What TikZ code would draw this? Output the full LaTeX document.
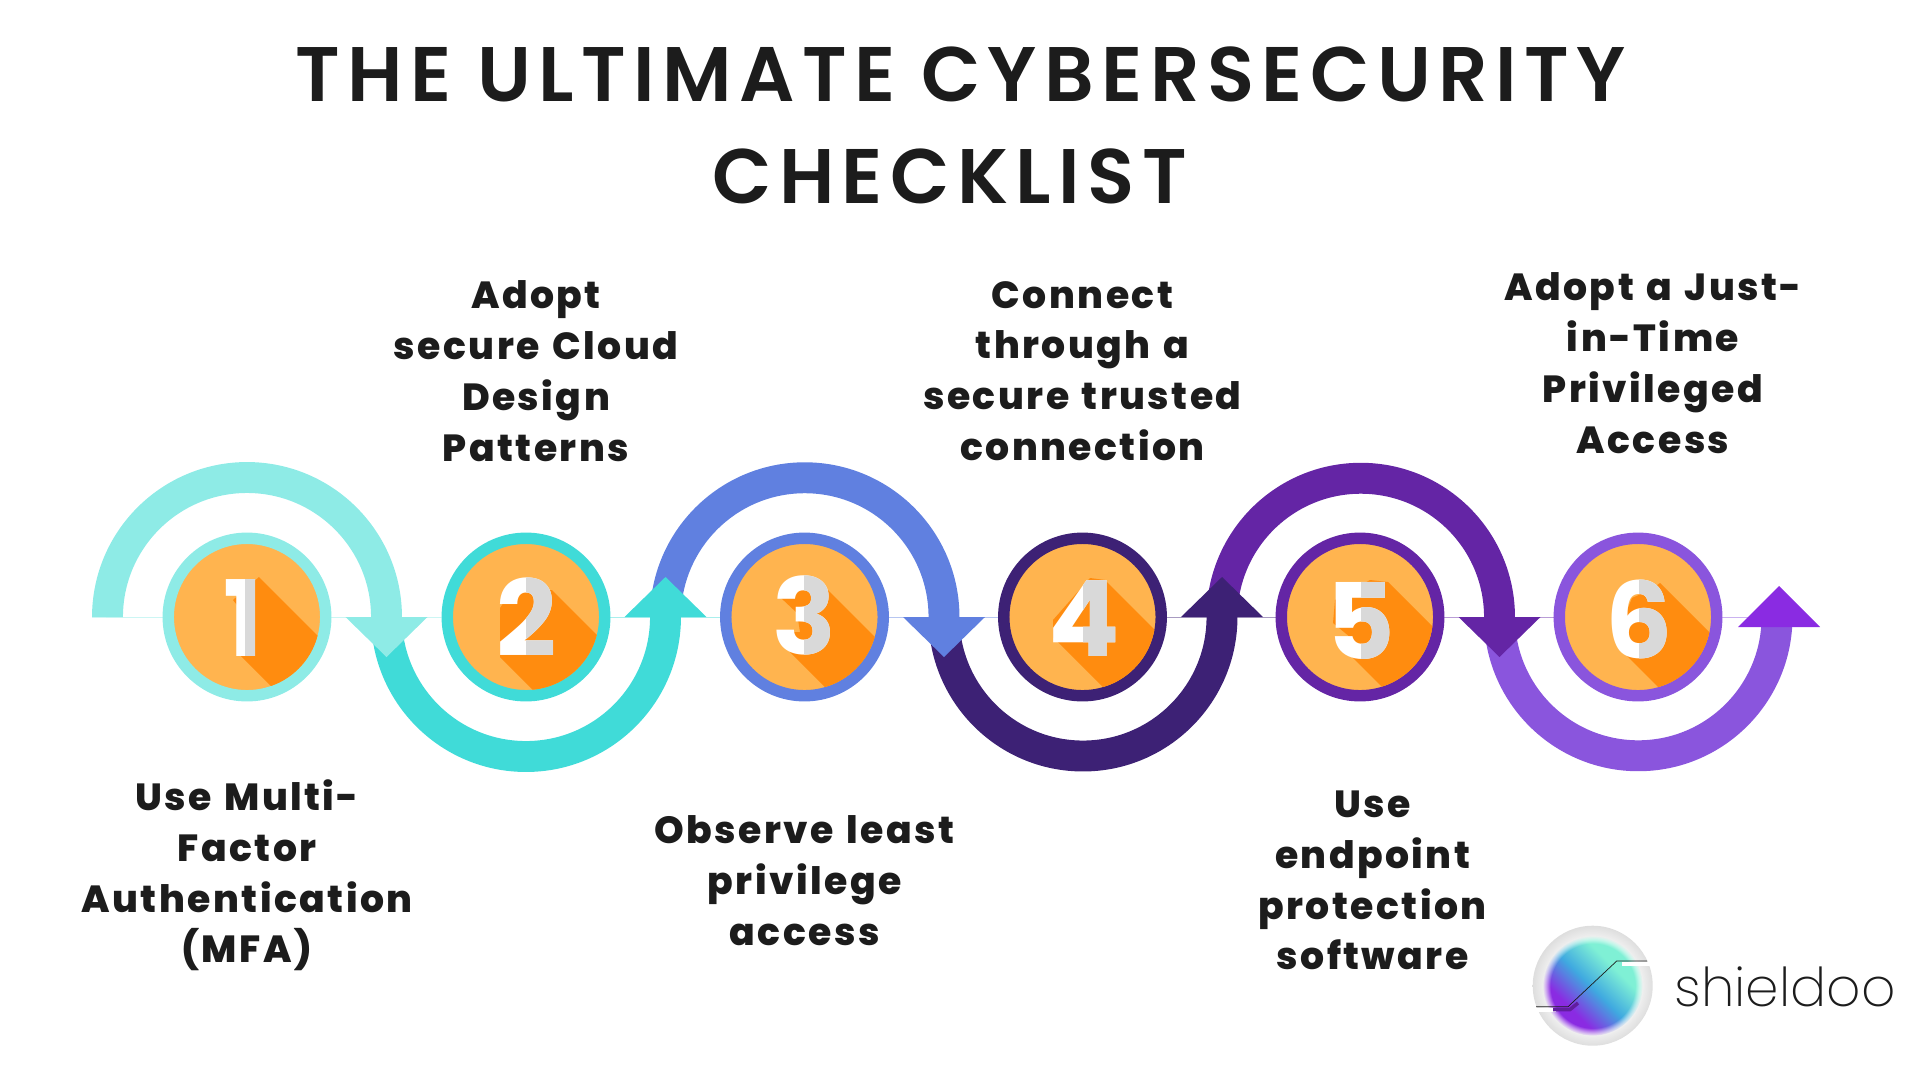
\documentclass[tikz,border=0pt]{standalone}
\usepackage{fontspec}
\usetikzlibrary{fadings}
\setmainfont{Poppins}
\newfontfamily\titlefont[LetterSpace=9.6]{Poppins SemiBold}
\newfontfamily\labelfont[LetterSpace=6.5,WordSpace=1.3]{Poppins ExtraBold}
\newfontfamily\digitfont{Poppins}
\newfontfamily\logofont{Poppins ExtraLight}
\definecolor{inkdark}{HTML}{1C1C1C}
\definecolor{badgelight}{HTML}{FFB44F}
\definecolor{badgedark}{HTML}{FF8C0F}
\definecolor{digitgrey}{HTML}{D9D9D9}
\definecolor{stepa}{HTML}{8EEBE6}
\definecolor{stepb}{HTML}{40DBD8}
\definecolor{stepc}{HTML}{6080E0}
\definecolor{stepd}{HTML}{3D2175}
\definecolor{stepe}{HTML}{6425A5}
\definecolor{stepf}{HTML}{8A55DD}
\definecolor{headf}{HTML}{8A2BE2}
\definecolor{logoblue}{HTML}{3FA9E0}
\definecolor{logoteal}{HTML}{7FF0D5}
\pgfdeclareverticalshading{logodisc}{100bp}{color(0bp)=(headf); color(34bp)=(headf); color(49bp)=(logoblue); color(64bp)=(logoteal); color(100bp)=(logoteal)}
\pgfdeclareradialshading{logoring}{\pgfpointorigin}{color(0bp)=(white); color(19bp)=(white); color(21bp)=(black!7); color(25bp)=(black!13); color(50bp)=(black!13)}
\pgfdeclareradialshading{logofadeshade}{\pgfpointorigin}{color(0bp)=(pgftransparent!0); color(21bp)=(pgftransparent!0); color(25bp)=(pgftransparent!100); color(50bp)=(pgftransparent!100)}
\pgfdeclarefading{logofade}{\pgfuseshading{logofadeshade}}
\tikzset{
  titleline/.style={font=\titlefont\fontsize{44}{44}\selectfont,text=inkdark,inner sep=0pt,anchor=base},
  steplabel/.style={font=\labelfont\fontsize{21.5}{28.9}\selectfont,text=inkdark,align=center,inner sep=0pt},
  badge/.style={circle,fill=badgelight,line width=6.5pt,minimum size=3.15cm,inner sep=0pt},
  digitmark/.style={font=\digitfont\bfseries\fontsize{60}{60}\selectfont,inner sep=0pt,anchor=base},
  bandline/.style={line width=17.6pt},
  hairline/.style={line width=0.5pt,opacity=0.45}
}
\begin{document}
\begin{tikzpicture}[x=0.02cm,y=-0.02cm]
  \useasboundingbox (0,0) rectangle (1920,1080);
  % title
  \node[titleline] (title1) at (960.5,101.7) {THE ULTIMATE CYBERSECURITY};
  \node[titleline] (title2) at (949.5,203) {CHECKLIST};
  % junctions on the middle line
  \coordinate (p0) at (107.5,617);
  \coordinate (p1) at (386.5,617);
  \coordinate (p2) at (665.5,617);
  \coordinate (p3) at (944,617);
  \coordinate (p4) at (1222,617);
  \coordinate (p5) at (1499.5,617);
  \coordinate (p6) at (1777,617);
  \coordinate (start) at (92,617);
  % badges
  \node[badge,draw=stepa] (badge1) at (247,617) {};
  \node[badge,draw=stepb] (badge2) at (526,617) {};
  \node[badge,draw=stepc] (badge3) at (804.5,617) {};
  \node[badge,draw=stepd] (badge4) at (1082.5,617) {};
  \node[badge,draw=stepe] (badge5) at (1360,617) {};
  \node[badge,draw=stepf] (badge6) at (1638,617) {};
  % thin line behind the arrows
  \draw[hairline,stepa] (start) -- (badge1);
  \draw[hairline,stepa] (badge1) -- (badge2);
  \draw[hairline,stepb] (badge2) -- (badge3);
  \draw[hairline,stepc] (badge3) -- (badge4);
  \draw[hairline,stepd] (badge4) -- (badge5);
  \draw[hairline,stepe] (badge5) -- (badge6);
  \draw[hairline,stepf] (badge6) -- (p6);
  % arrows, last one first
  \draw[bandline,stepf] (p5) arc[start angle=180,end angle=0,radius=138.75];
  \fill[headf] (p6) ++(-39,10) -- ++(82,0) -- ++(-41,-41) -- cycle;
  \draw[bandline,stepe] (p4) arc[start angle=180,end angle=360,radius=138.75];
  \fill[stepe] (p5) ++(-41,0) -- ++(82,0) -- ++(-41,40) -- cycle;
  \draw[bandline,stepd] (p3) arc[start angle=180,end angle=0,radius=139];
  \fill[stepd] (p4) ++(-41,0) -- ++(82,0) -- ++(-41,-40) -- cycle;
  \draw[bandline,stepc] (p2) arc[start angle=180,end angle=360,radius=139.25];
  \fill[stepc] (p3) ++(-41,0) -- ++(82,0) -- ++(-41,40) -- cycle;
  \draw[bandline,stepb] (p1) arc[start angle=180,end angle=0,radius=139.5];
  \fill[stepb] (p2) ++(-41,0) -- ++(82,0) -- ++(-41,-40) -- cycle;
  \draw[bandline,stepa] (p0) arc[start angle=180,end angle=360,radius=139.5];
  \fill[stepa] (p1) ++(-41,0) -- ++(82,0) -- ++(-41,40) -- cycle;
  % long shadows
  \begin{scope}
    \clip (badge1.center) circle (73);
    \fill[badgedark] (259,577) -- (379,697) -- (361,776) -- (241,656) -- (241,610) -- (233,600) -- cycle;
  \end{scope}
  \begin{scope}
    \clip (badge2.center) circle (73);
    \fill[badgedark] (552,590) -- (672,710) -- (620,777) -- (500,657) -- (500,608) -- (512,590) -- cycle;
  \end{scope}
  \begin{scope}
    \clip (badge3.center) circle (73);
    \fill[badgedark] (828,590) -- (948,710) -- (910,772) -- (790,652) -- (782,632) -- (800,632) -- (797,613) -- (780,597) -- (800,580) -- cycle;
  \end{scope}
  \begin{scope}
    \clip (badge4.center) circle (73);
    \fill[badgedark] (1105,580) -- (1225,700) -- (1173,757) -- (1053,637) -- (1053,620) -- (1090,578) -- cycle;
  \end{scope}
  \begin{scope}
    \clip (badge5.center) circle (73);
    \fill[badgedark] (1388,582) -- (1508,702) -- (1467,772) -- (1347,652) -- (1350,637) -- (1333,623) -- (1335,600) -- (1370,580) -- cycle;
  \end{scope}
  \begin{scope}
    \clip (badge6.center) circle (73);
    \fill[badgedark] (1660,583) -- (1780,703) -- (1748,777) -- (1628,657) -- (1615,640) -- (1632,598) -- (1650,590) -- cycle;
  \end{scope}
  % digits, white with a grey right half
  \node[digitmark,text=white] (digit1) at (243,656) {1};
  \begin{scope}
    \clip (245,560) rectangle (300,680);
    \node[digitmark,text=digitgrey] (digit1b) at (243,656) {1};
  \end{scope}
  \node[digitmark,text=white] (digit2) at (527,656) {2};
  \begin{scope}
    \clip (526,560) rectangle (580,680);
    \node[digitmark,text=digitgrey] (digit2b) at (527,656) {2};
  \end{scope}
  \node[digitmark,text=white] (digit3) at (804.5,654) {3};
  \begin{scope}
    \clip (804,560) rectangle (860,680);
    \node[digitmark,text=digitgrey] (digit3b) at (804.5,654) {3};
  \end{scope}
  \node[digitmark,text=white] (digit4) at (1084.5,656) {4};
  \begin{scope}
    \clip (1083,560) rectangle (1140,680);
    \node[digitmark,text=digitgrey] (digit4b) at (1084.5,656) {4};
  \end{scope}
  \node[digitmark,text=white] (digit5) at (1360.5,659) {5};
  \begin{scope}
    \clip (1361,560) rectangle (1420,680);
    \node[digitmark,text=digitgrey] (digit5b) at (1360.5,659) {5};
  \end{scope}
  \node[digitmark,text=white] (digit6) at (1639,658) {6};
  \begin{scope}
    \clip (1639,560) rectangle (1700,680);
    \node[digitmark,text=digitgrey] (digit6b) at (1639,658) {6};
  \end{scope}
  % labels
  \node[steplabel] (label1) at (247,875.5) {Use Multi-\\Factor\\Authentication\\(MFA)};
  \node[steplabel] (label2) at (536,371) {Adopt\\secure Cloud\\Design\\Patterns};
  \node[steplabel] (label3) at (804.5,880.5) {Observe least\\privilege\\access};
  \node[steplabel] (label4) at (1082.5,371) {Connect\\through a\\secure trusted\\connection};
  \node[steplabel] (label5) at (1372.6,880.5) {Use\\endpoint\\protection\\software};
  \node[steplabel] (label6) at (1653,363) {Adopt a Just-\\in-Time\\Privileged\\Access};
  % logo
  \coordinate (logo) at (1592.7,985.7);
  \coordinate (linea) at (1536,1006.7);
  \coordinate (lineb) at (1568,1006.7);
  \coordinate (linec) at (1616.7,961);
  \coordinate (lined) at (1647,961);
  \shade[shading=logoring] (logo) circle (60);
  \shade[shading=logodisc,shading angle=-45,path fading=logofade] (logo) circle (50);
  \draw[white,line width=2.4pt] (1534,1010) -- (1556,1010);
  \draw[white,line width=2.4pt] (1622,964) -- (1654,964);
  \draw[line width=2pt,headf!70!black] (1553,1009.5) -- (1570,1009.5) -- (1578,1003);
  \draw[line width=0.4pt,inkdark] (linea) -- (lineb) -- (linec) -- (lined);
  \node[font=\logofont\fontsize{30.5}{30.5}\selectfont,text=inkdark,inner sep=0pt,anchor=base west] (logotext) at (1674,1006) {shieldoo};
\end{tikzpicture}
\end{document}
